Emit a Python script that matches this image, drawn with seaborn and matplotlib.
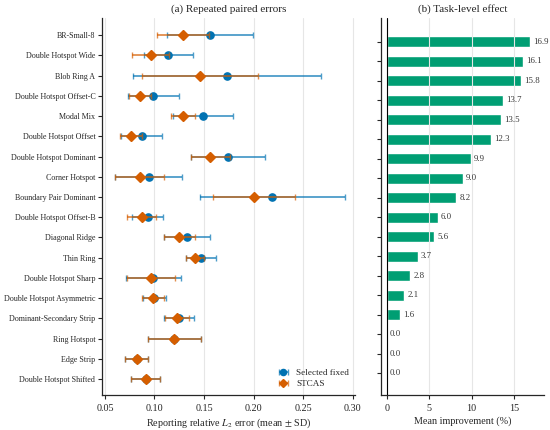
import numpy as np
import pandas as pd
import matplotlib
matplotlib.use("Agg")
import matplotlib.pyplot as plt
from matplotlib.colors import to_rgba
import seaborn as sns

# Tasks, top to bottom
tasks = [
    "BR-Small-8", "Double Hotspot Wide", "Blob Ring A", "Double Hotspot Offset-C",
    "Modal Mix", "Double Hotspot Offset", "Double Hotspot Dominant", "Corner Hotspot",
    "Boundary Pair Dominant", "Double Hotspot Offset-B", "Diagonal Ridge", "Thin Ring",
    "Double Hotspot Sharp", "Double Hotspot Asymmetric", "Dominant-Secondary Strip",
    "Ring Hotspot", "Edge Strip", "Double Hotspot Shifted",
]

# Selected fixed: mean and SD of relative L2 error
fixed_mean = [0.156, 0.114, 0.173, 0.099, 0.149, 0.087, 0.174, 0.094, 0.219,
              0.093, 0.133, 0.147, 0.099, 0.100, 0.125, 0.120, 0.082, 0.091]
fixed_sd = [0.043, 0.025, 0.095, 0.0255, 0.030, 0.0205, 0.0375, 0.034, 0.073,
            0.016, 0.023, 0.0155, 0.0275, 0.012, 0.015, 0.027, 0.0115, 0.015]

# STCAS: mean and SD
stcas_mean = [0.129, 0.096, 0.146, 0.0855, 0.129, 0.0765, 0.1565, 0.085, 0.2005,
              0.087, 0.125, 0.141, 0.0963, 0.0987, 0.123, 0.120, 0.082, 0.091]
stcas_sd = [0.0265, 0.0185, 0.0585, 0.011, 0.012, 0.011, 0.020, 0.025, 0.0415,
            0.015, 0.0155, 0.0094, 0.0245, 0.011, 0.012, 0.027, 0.0115, 0.015]

# Mean improvement (%)
improvement = [16.9, 16.1, 15.8, 13.7, 13.5, 12.3, 9.9, 9.0, 8.2, 6.0, 5.6,
               3.7, 2.8, 2.1, 1.6, 0.0, 0.0, 0.0]

blue = "#0072B2"
orange = "#D55E00"
green = "#009E73"

sns.set_style("ticks")
plt.rcParams["font.family"] = ["Liberation Serif", "DejaVu Serif"]
plt.rcParams["mathtext.fontset"] = "stix"
plt.rcParams["axes.linewidth"] = 0.9

fig = plt.figure(figsize=(5.5, 4.3), dpi=100)
ax1 = fig.add_axes([0.186, 0.082, 0.4595, 0.8755])
ax2 = fig.add_axes([0.692, 0.082, 0.297, 0.8755])

ypos = np.arange(len(tasks))

# (a) errors
ax1.errorbar(fixed_mean, ypos, xerr=fixed_sd, fmt="o", color=blue, ms=5.2,
             ecolor=to_rgba(blue, 0.7), elinewidth=1.3, capsize=2, capthick=1,
             label="Selected fixed", zorder=3)
ax1.errorbar(stcas_mean, ypos, xerr=stcas_sd, fmt="D", color=orange, ms=4.6,
             ecolor=to_rgba(orange, 0.7), elinewidth=1.3, capsize=2, capthick=1,
             label="STCAS", zorder=4)
ax1.set_yticks(ypos)
ax1.set_yticklabels(tasks, fontsize=5.8)
ax1.set_ylim(17.78, -0.84)
ax1.set_xlim(0.0473, 0.3025)
ax1.set_xticks([0.05, 0.10, 0.15, 0.20, 0.25, 0.30])
ax1.set_xticklabels(["0.05", "0.10", "0.15", "0.20", "0.25", "0.30"])
ax1.tick_params(axis="x", labelsize=7.3, length=3, width=0.8)
ax1.tick_params(axis="y", length=3, width=0.8, pad=2)
ax1.xaxis.grid(True, color="#e6e6e6", lw=0.8)
ax1.set_axisbelow(True)
ax1.set_xlabel(r"Reporting relative $L_2$ error (mean $\pm$ SD)", fontsize=7.3, labelpad=2.5)
ax1.set_title("(a) Repeated paired errors", fontsize=8, pad=5)
ax1.legend(loc="lower right", frameon=False, fontsize=6.6, handlelength=1.3,
           markerscale=0.85, labelspacing=0.3, bbox_to_anchor=(1.01, -0.005))
sns.despine(ax=ax1)

# (b) improvement
df = pd.DataFrame({"task": tasks, "improvement": improvement})
sns.barplot(data=df, x="improvement", y="task", orient="h", color=green,
            width=0.56, saturation=1, ax=ax2)
for i, v in enumerate(improvement):
    ax2.text(v + 0.35, i, f"{v:.1f}", va="center", ha="left", fontsize=6.3, color="#333333")
ax2.axvline(0, color="black", lw=0.8, zorder=3)
ax2.set_ylim(18.1, -1.2)
ax2.set_xlim(-0.71, 18.53)
ax2.set_xticks([0, 5, 10, 15])
ax2.set_yticks(ypos)
ax2.set_yticklabels([])
ax2.set_ylabel("")
ax2.tick_params(axis="x", labelsize=7.3, length=3, width=0.8)
ax2.tick_params(axis="y", length=3, width=0.8)
ax2.xaxis.grid(True, color="#e6e6e6", lw=0.8)
ax2.set_axisbelow(False)
ax2.set_xlabel("Mean improvement (%)", fontsize=7.3, labelpad=2.5)
ax2.set_title("(b) Task-level effect", fontsize=8, pad=5)
sns.despine(ax=ax2)

fig.savefig("out.png", dpi=100)
